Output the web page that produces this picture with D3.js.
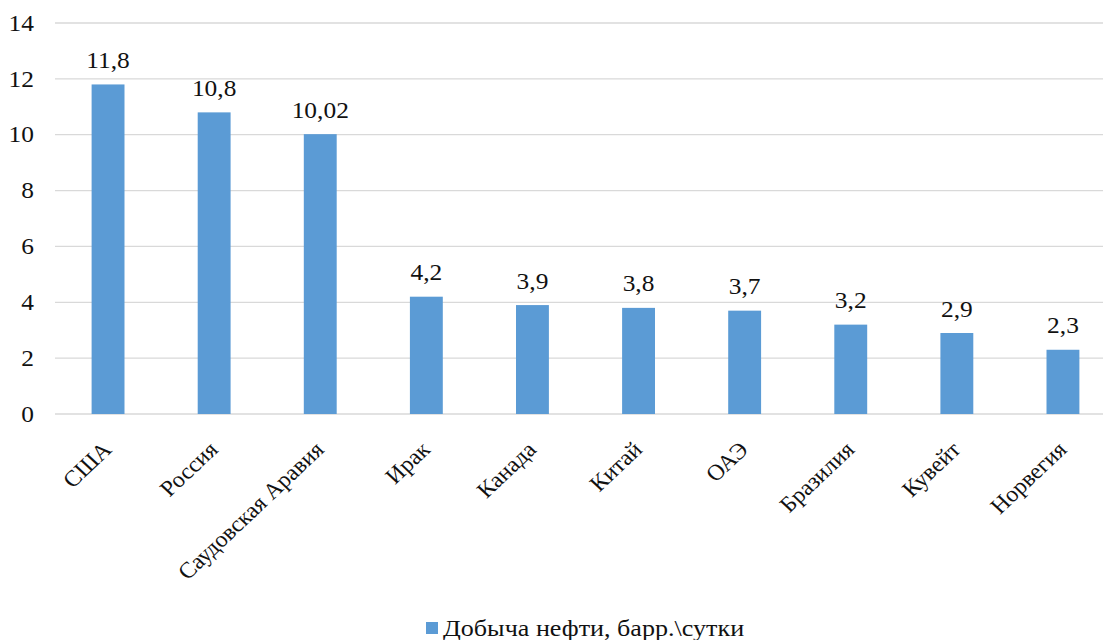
<!DOCTYPE html>
<html><head><meta charset="utf-8">
<script src="https://cdn.jsdelivr.net/npm/d3@7"></script>
<style>body{margin:0;background:#fff}</style>
</head><body><svg id="c" width="1103" height="640"></svg>
<script>
const categories = ["США","Россия","Саудовская Аравия","Ирак","Канада","Китай","ОАЭ","Бразилия","Кувейт","Норвегия"];
const values = [11.8,10.8,10.02,4.2,3.9,3.8,3.7,3.2,2.9,2.3];
const valueLabels = ["11,8","10,8","10,02","4,2","3,9","3,8","3,7","3,2","2,9","2,3"];
const yTicks = [0,2,4,6,8,10,12,14];
const seriesName = "Добыча нефти, барр.\\сутки";

const FONT = "'Liberation Serif'";
const FS = 22.5, SX = 1.13;
const svg = d3.select("#c");
const x = d3.scaleBand().domain(categories).range([55,1116]).paddingInner(0.69).paddingOuter(0.345);
const y = d3.scaleLinear().domain([0,14]).range([414,23]);

function txt(sel){ return sel.style("font-family",FONT).attr("font-size",FS).attr("fill","#111"); }

svg.append("g").selectAll("line").data(yTicks).join("line")
  .attr("x1",55).attr("x2",1103).attr("y1",d=>y(d)).attr("y2",d=>y(d))
  .attr("stroke","#d9d9d9").attr("stroke-width",1.3);

txt(svg.append("g").selectAll("text").data(yTicks).join("text"))
  .attr("transform",d=>`translate(34,${y(d)}) scale(${SX},1)`)
  .attr("dy","0.34em").attr("text-anchor","end").text(d=>d);

svg.append("g").selectAll("rect").data(values).join("rect")
  .attr("x",(d,i)=>x(categories[i])).attr("width",x.bandwidth())
  .attr("y",d=>y(d)).attr("height",d=>y(0)-y(d)).attr("fill","#5b9bd5");

txt(svg.append("g").selectAll("text").data(values).join("text"))
  .attr("transform",(d,i)=>`translate(${x(categories[i])+x.bandwidth()/2},${y(d)-16.5}) scale(${SX},1)`)
  .attr("text-anchor","middle").text((d,i)=>valueLabels[i]);

txt(svg.append("g").selectAll("text").data(categories).join("text"))
  .attr("transform",d=>`translate(${x(d)+x.bandwidth()/2+5},451) scale(1.06,1) rotate(-45)`)
  .attr("text-anchor","end").text(d=>d);

const lg = svg.append("g");
lg.append("rect").attr("x",426).attr("y",622).attr("width",12).attr("height",12).attr("fill","#5b9bd5");
txt(lg.append("text")).attr("transform",`translate(443,636) scale(1.16,1)`).text(seriesName);
</script></body></html>
